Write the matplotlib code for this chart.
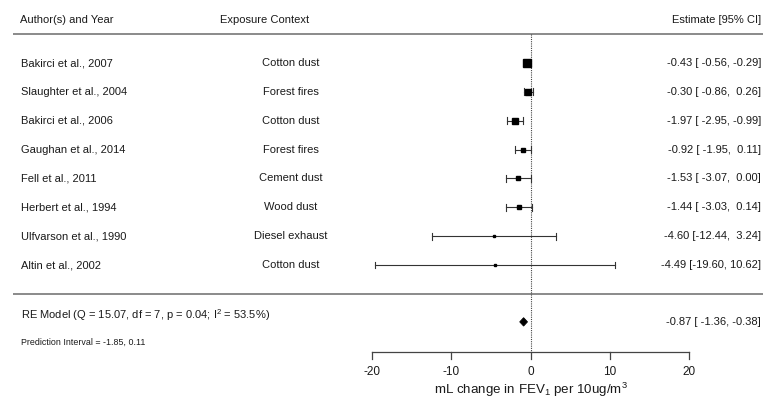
import matplotlib
matplotlib.use("Agg")
import matplotlib.pyplot as plt
from matplotlib.patches import Polygon
import numpy as np

# ---------------- data ----------------
studies = ["Bakirci et al., 2007", "Slaughter et al., 2004", "Bakirci et al., 2006",
           "Gaughan et al., 2014", "Fell et al., 2011", "Herbert et al., 1994",
           "Ulfvarson et al., 1990", "Altin et al., 2002"]
exposure = ["Cotton dust", "Forest fires", "Cotton dust", "Forest fires",
            "Cement dust", "Wood dust", "Diesel exhaust", "Cotton dust"]
est = [-0.43, -0.30, -1.97, -0.92, -1.53, -1.44, -4.60, -4.49]
ci_lo = [-0.56, -0.86, -2.95, -1.95, -3.07, -3.03, -12.44, -19.60]
ci_hi = [-0.29, 0.26, -0.99, 0.11, 0.00, 0.14, 3.24, 10.62]

re_est, re_lo, re_hi = -0.87, -1.36, -0.38
re_Q, re_df, re_p, re_I2 = 15.07, 7, 0.04, 53.5
pi_lo, pi_hi = -1.85, 0.11
tau2 = 0.19  # between-study variance (approx.)

x_ticks = [-20, -10, 0, 10, 20]

# ---------------- figure ----------------
plt.rcParams['font.family'] = ['Liberation Sans', 'DejaVu Sans']
plt.rcParams['mathtext.fontset'] = 'custom'
plt.rcParams['mathtext.rm'] = 'Liberation Sans'
plt.rcParams['mathtext.it'] = 'Liberation Sans'

W, H = 763, 399
fig = plt.figure(figsize=(W / 100, H / 100), dpi=100)
ax = fig.add_axes([0, 0, 1, 1])
ax.set_axis_off()

# x: -20 -> 372 px, 20 -> 689 px
ppu = (689 - 372) / 40.0
ax.set_xlim(-20 - 372 / ppu, 20 + (W - 689) / ppu)
# y: row units, row 0 at 63px, spacing 28.86px
row_px = 28.86
ax.set_ylim((H - 63) / row_px, -63 / row_px)

tcol = '#1a1a1a'
fs = 8
xf = lambda px: px / W
trans = ax.get_yaxis_transform()  # x in axes fraction, y in data

n = len(est)
rows = np.arange(n)

# headers
ax.text(xf(20), -1.49, "Author(s) and Year", transform=trans, ha='left', va='center', fontsize=fs, color=tcol)
ax.text(xf(265), -1.49, "Exposure Context", transform=trans, ha='center', va='center', fontsize=fs, color=tcol)
ax.text(xf(761), -1.49, "Estimate [95% CI]", transform=trans, ha='right', va='center', fontsize=fs, color=tcol)

# horizontal separator lines
ax.plot([xf(13), 1.0], [-1.0, -1.0], transform=trans, color='#8a8a8a', lw=1.4, solid_capstyle='butt')
ax.plot([xf(13), 1.0], [8.0, 8.0], transform=trans, color='#8a8a8a', lw=1.4, solid_capstyle='butt')

# reference line at 0
ax.plot([0, 0], [-1.0, 10.0], color='#444444', lw=0.8, linestyle=(0, (1, 1)))

# weights -> square sizes (metafor style, 0.5..1.5)
est_a = np.array(est)
lo_a = np.array(ci_lo)
hi_a = np.array(ci_hi)
se = (hi_a - lo_a) / (2 * 1.96)
w = 1.0 / (se ** 2 + tau2)
w = w / w.sum()
psize = (w - w.min()) / (w.max() - w.min()) * 1.0 + 0.5
side_px = psize * 5.4

cap = 0.12
for i in range(n):
    y = rows[i]
    ax.plot([ci_lo[i], ci_hi[i]], [y, y], color='#333333', lw=0.8)
    ax.plot([ci_lo[i], ci_lo[i]], [y - cap, y + cap], color='#333333', lw=0.8)
    ax.plot([ci_hi[i], ci_hi[i]], [y - cap, y + cap], color='#333333', lw=0.8)
    ax.plot([est[i]], [y], marker='s', color='black', markersize=side_px[i] * 0.72, linestyle='none')
    ax.text(xf(21), y, studies[i], transform=trans, ha='left', va='center', fontsize=fs, color=tcol)
    ax.text(xf(291), y, exposure[i], transform=trans, ha='center', va='center', fontsize=fs, color=tcol)
    lab = f"{est[i]:.2f} [{ci_lo[i]:6.2f}, {ci_hi[i]:5.2f}]"
    ax.text(xf(761), y, lab, transform=trans, ha='right', va='center', fontsize=fs, color=tcol)

# RE model
y_re = 8.97
dh = 0.145
diamond = Polygon([[re_lo, y_re], [re_est, y_re - dh], [re_hi, y_re], [re_est, y_re + dh]],
                  closed=True, facecolor='black', edgecolor='black', lw=0.6)
ax.add_patch(diamond)
ax.text(xf(21), 8.73,
        f"RE Model (Q = {re_Q:.2f}, df = {re_df}, p = {re_p:.2f}; I$^\\mathregular{{2}}$ = {re_I2:.1f}%)",
        transform=trans, ha='left', va='center', fontsize=fs, color=tcol)
ax.text(xf(761), y_re, f"{re_est:.2f} [{re_lo:6.2f}, {re_hi:5.2f}]",
        transform=trans, ha='right', va='center', fontsize=fs, color=tcol)
ax.text(xf(21), 9.67, f"Prediction Interval = {pi_lo:.2f}, {pi_hi:.2f}",
        transform=trans, ha='left', va='center', fontsize=6.4, color=tcol)

# x axis
y_ax = 10.0
ax.plot([x_ticks[0], x_ticks[-1]], [y_ax, y_ax], color='#444444', lw=0.9)
for t in x_ticks:
    ax.plot([t, t], [y_ax, y_ax + 0.26], color='#444444', lw=0.9)
    ax.text(t, 10.71, f"{t}", ha='center', va='center', fontsize=8.5, color=tcol)
ax.text(0, 11.33, "mL change in FEV$_\\mathregular{1}$ per 10ug/m$^\\mathregular{3}$",
        ha='center', va='center', fontsize=9.6, color=tcol)

fig.savefig("out.png", dpi=100)
